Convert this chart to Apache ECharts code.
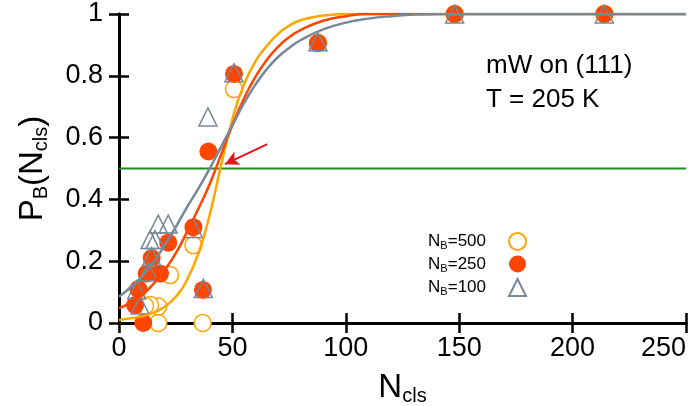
<!DOCTYPE html>
<html>
<head>
<meta charset="utf-8">
<script src="https://cdn.jsdelivr.net/npm/echarts@6/dist/echarts.min.js"></script>
<style>
  html, body { margin: 0; padding: 0; background: #fff; }
  #chart { width: 696px; height: 406px; }
</style>
</head>
<body>
<div id="chart"></div>
<script>
// Cluster size N_cls and the probability P_B that the cluster grows
const nb500_x = [17.3, 36.9, 17.3, 13.7, 11.5, 22.5, 32.8, 50.7, 87.7, 148, 214];
const nb500_y = [0.0, 0.0, 0.053, 0.058, 0.055, 0.155, 0.252, 0.757, 0.906, 1.0, 1.0];

const nb250_x = [10.7, 7.1, 8.5, 12.2, 18.1, 14.4, 21.7, 32.8, 37.0, 39.4, 50.7, 87.7, 148, 214];
const nb250_y = [0.0, 0.058, 0.11, 0.16, 0.16, 0.21, 0.26, 0.31, 0.107, 0.555, 0.806, 0.906, 1.0, 1.0];

const nb100_x = [17.3, 21.7, 13.7, 15.9, 14.4, 12.9, 7.8, 9.3, 37.2, 32.8, 39.2, 50.7, 87.7, 148, 214];
const nb100_y = [0.32, 0.32, 0.27, 0.27, 0.215, 0.166, 0.107, 0.058, 0.112, 0.306, 0.667, 0.81, 0.91, 1.0, 1.0];

// Fitted committor curves, sampled every 5 clusters up to saturation
const fit500_x = [0, 5, 10, 15, 20, 25, 30, 35, 40, 45, 50, 55, 60, 65, 70, 75, 80, 90, 100, 250];
const fit500_y = [0.01, 0.015, 0.022, 0.033, 0.052, 0.085, 0.14, 0.225, 0.35, 0.51, 0.66, 0.77, 0.845, 0.895, 0.935, 0.962, 0.98, 0.995, 1.0, 1.0];

const fit250_x = [0, 5, 10, 15, 20, 25, 30, 35, 40, 45, 50, 55, 60, 65, 70, 75, 80, 90, 100, 110, 250];
const fit250_y = [0.048, 0.065, 0.09, 0.125, 0.17, 0.225, 0.295, 0.37, 0.45, 0.545, 0.64, 0.725, 0.795, 0.85, 0.893, 0.925, 0.948, 0.978, 0.993, 1.0, 1.0];

const fit100_x = [0, 5, 10, 15, 20, 25, 30, 35, 40, 45, 50, 55, 60, 65, 70, 75, 80, 90, 100, 110, 120, 130, 140, 250];
const fit100_y = [0.085, 0.115, 0.15, 0.195, 0.25, 0.31, 0.375, 0.435, 0.5, 0.57, 0.64, 0.71, 0.77, 0.82, 0.86, 0.89, 0.915, 0.95, 0.972, 0.985, 0.993, 0.998, 1.0, 1.0];

const xTicks = [0, 50, 100, 150, 200, 250];
const yTicks = [0, 0.2, 0.4, 0.6, 0.8, 1];
const halfLevel = 0.5;
const arrowFrom = [65.4, 0.579];
const arrowTo = [46.7, 0.514];

const legendNames = ['N_B=500', 'N_B=250', 'N_B=100'];
const annotation = ['mW on (111)', 'T = 205 K'];

const C500 = '#ffa500';
const C250 = '#ff4500';
const C100 = '#778899';
const FONT = '"Liberation Sans", Arial, sans-serif';

const zip = (xs, ys) => xs.map((x, i) => [x, ys[i]]);

const chart = echarts.init(document.getElementById('chart'), null, { renderer: 'canvas' });

const axisLine = { show: true, lineStyle: { color: '#000', width: 3 } };
const axisTick = { show: true, inside: true, length: 10, lineStyle: { color: '#000', width: 2.5 } };

const subRich = (big, small) => ({
  n: { fontSize: big, fontFamily: FONT, color: '#000' },
  s: { fontSize: small, fontFamily: FONT, color: '#000', padding: [Math.round(big * 0.5), 0, 0, 0] }
});

const legendRich = Object.assign(subRich(17, 11), { g: { width: 18 } });

const fitLine = (name, color, xs, ys) => ({
  name, type: 'line', smooth: 0.5, symbol: 'none', z: 6,
  lineStyle: { color, width: 2.5 }, data: zip(xs, ys)
});

chart.setOption({
  animation: false,
  backgroundColor: '#fff',
  grid: { left: 119, right: 10, top: 14, bottom: 83, containLabel: false, outerBoundsMode: 'none' },
  xAxis: [
    {
      type: 'value', min: xTicks[0], max: xTicks[xTicks.length - 1], interval: 50,
      axisLine, axisTick, splitLine: { show: false },
      axisLabel: { fontSize: 27, fontFamily: FONT, color: '#000', margin: 12, alignMaxLabel: 'right' },
      name: '{n|N}{s|cls}', nameLocation: 'middle', nameGap: 46,
      nameTextStyle: { rich: subRich(33, 20) }
    },
    {
      type: 'value', position: 'top', min: xTicks[0], max: xTicks[xTicks.length - 1], interval: 50,
      axisLine, axisTick, axisLabel: { show: false }, splitLine: { show: false }
    }
  ],
  yAxis: [
    {
      type: 'value', min: yTicks[0], max: yTicks[yTicks.length - 1], interval: 0.2,
      axisLine, axisTick, splitLine: { show: false },
      axisLabel: { fontSize: 27, fontFamily: FONT, color: '#000', margin: 16 },
      name: '{n|P}{s|B}{n|(N}{s|cls}{n|)}', nameLocation: 'middle', nameGap: 68, nameRotate: 90,
      nameTextStyle: { rich: subRich(33, 20) }
    },
    {
      type: 'value', position: 'right', min: yTicks[0], max: yTicks[yTicks.length - 1], interval: 0.2,
      axisLine, axisTick, axisLabel: { show: false }, splitLine: { show: false }
    }
  ],
  legend: {
    data: legendNames,
    orient: 'vertical', align: 'right', right: 164, top: 227,
    itemWidth: 17, itemHeight: 17, itemGap: 4,
    selectedMode: false,
    formatter: (name) => {
      const parts = name.split('_');
      const rest = parts[1].slice(1);
      return '{n|' + parts[0] + '}{s|' + parts[1][0] + '}{n|' + rest + '}{g|}';
    },
    textStyle: { rich: legendRich }
  },
  graphic: [
    { type: 'text', left: 486, top: 53, style: { text: annotation[0], font: '26px ' + FONT, fill: '#000' } },
    { type: 'text', left: 486, top: 87, style: { text: annotation[1], font: '26px ' + FONT, fill: '#000' } }
  ],
  series: [
    {
      name: 'ref', type: 'line', silent: true, symbol: 'none', z: 1,
      data: [[xTicks[0], halfLevel], [xTicks[xTicks.length - 1], halfLevel]],
      lineStyle: { color: '#1f8a1f', width: 2 },
      markLine: {
        silent: true, symbol: ['none', 'arrow'], symbolSize: [11, 14],
        label: { show: false },
        lineStyle: { color: '#e8141c', width: 2, type: 'solid' },
        data: [[{ coord: arrowFrom }, { coord: arrowTo }]]
      }
    },
    {
      name: legendNames[0], type: 'scatter', clip: false, symbol: 'circle', symbolSize: 17, z: 3,
      itemStyle: { color: '#fff', borderColor: C500, borderWidth: 1.5, opacity: 1 },
      data: zip(nb500_x, nb500_y)
    },
    {
      name: legendNames[1], type: 'scatter', clip: false, symbol: 'circle', symbolSize: 18, z: 4,
      itemStyle: { color: C250, borderColor: C250, borderWidth: 0, opacity: 1 },
      data: zip(nb250_x, nb250_y)
    },
    {
      name: legendNames[2], type: 'scatter', clip: false, symbol: 'triangle', symbolSize: 18, z: 5,
      itemStyle: { color: 'rgba(255,255,255,0)', borderColor: C100, borderWidth: 1.5, opacity: 1 },
      data: zip(nb100_x, nb100_y)
    },
    fitLine('fit500', C500, fit500_x, fit500_y),
    fitLine('fit250', C250, fit250_x, fit250_y),
    fitLine('fit100', C100, fit100_x, fit100_y)
  ]
});
</script>
</body>
</html>
